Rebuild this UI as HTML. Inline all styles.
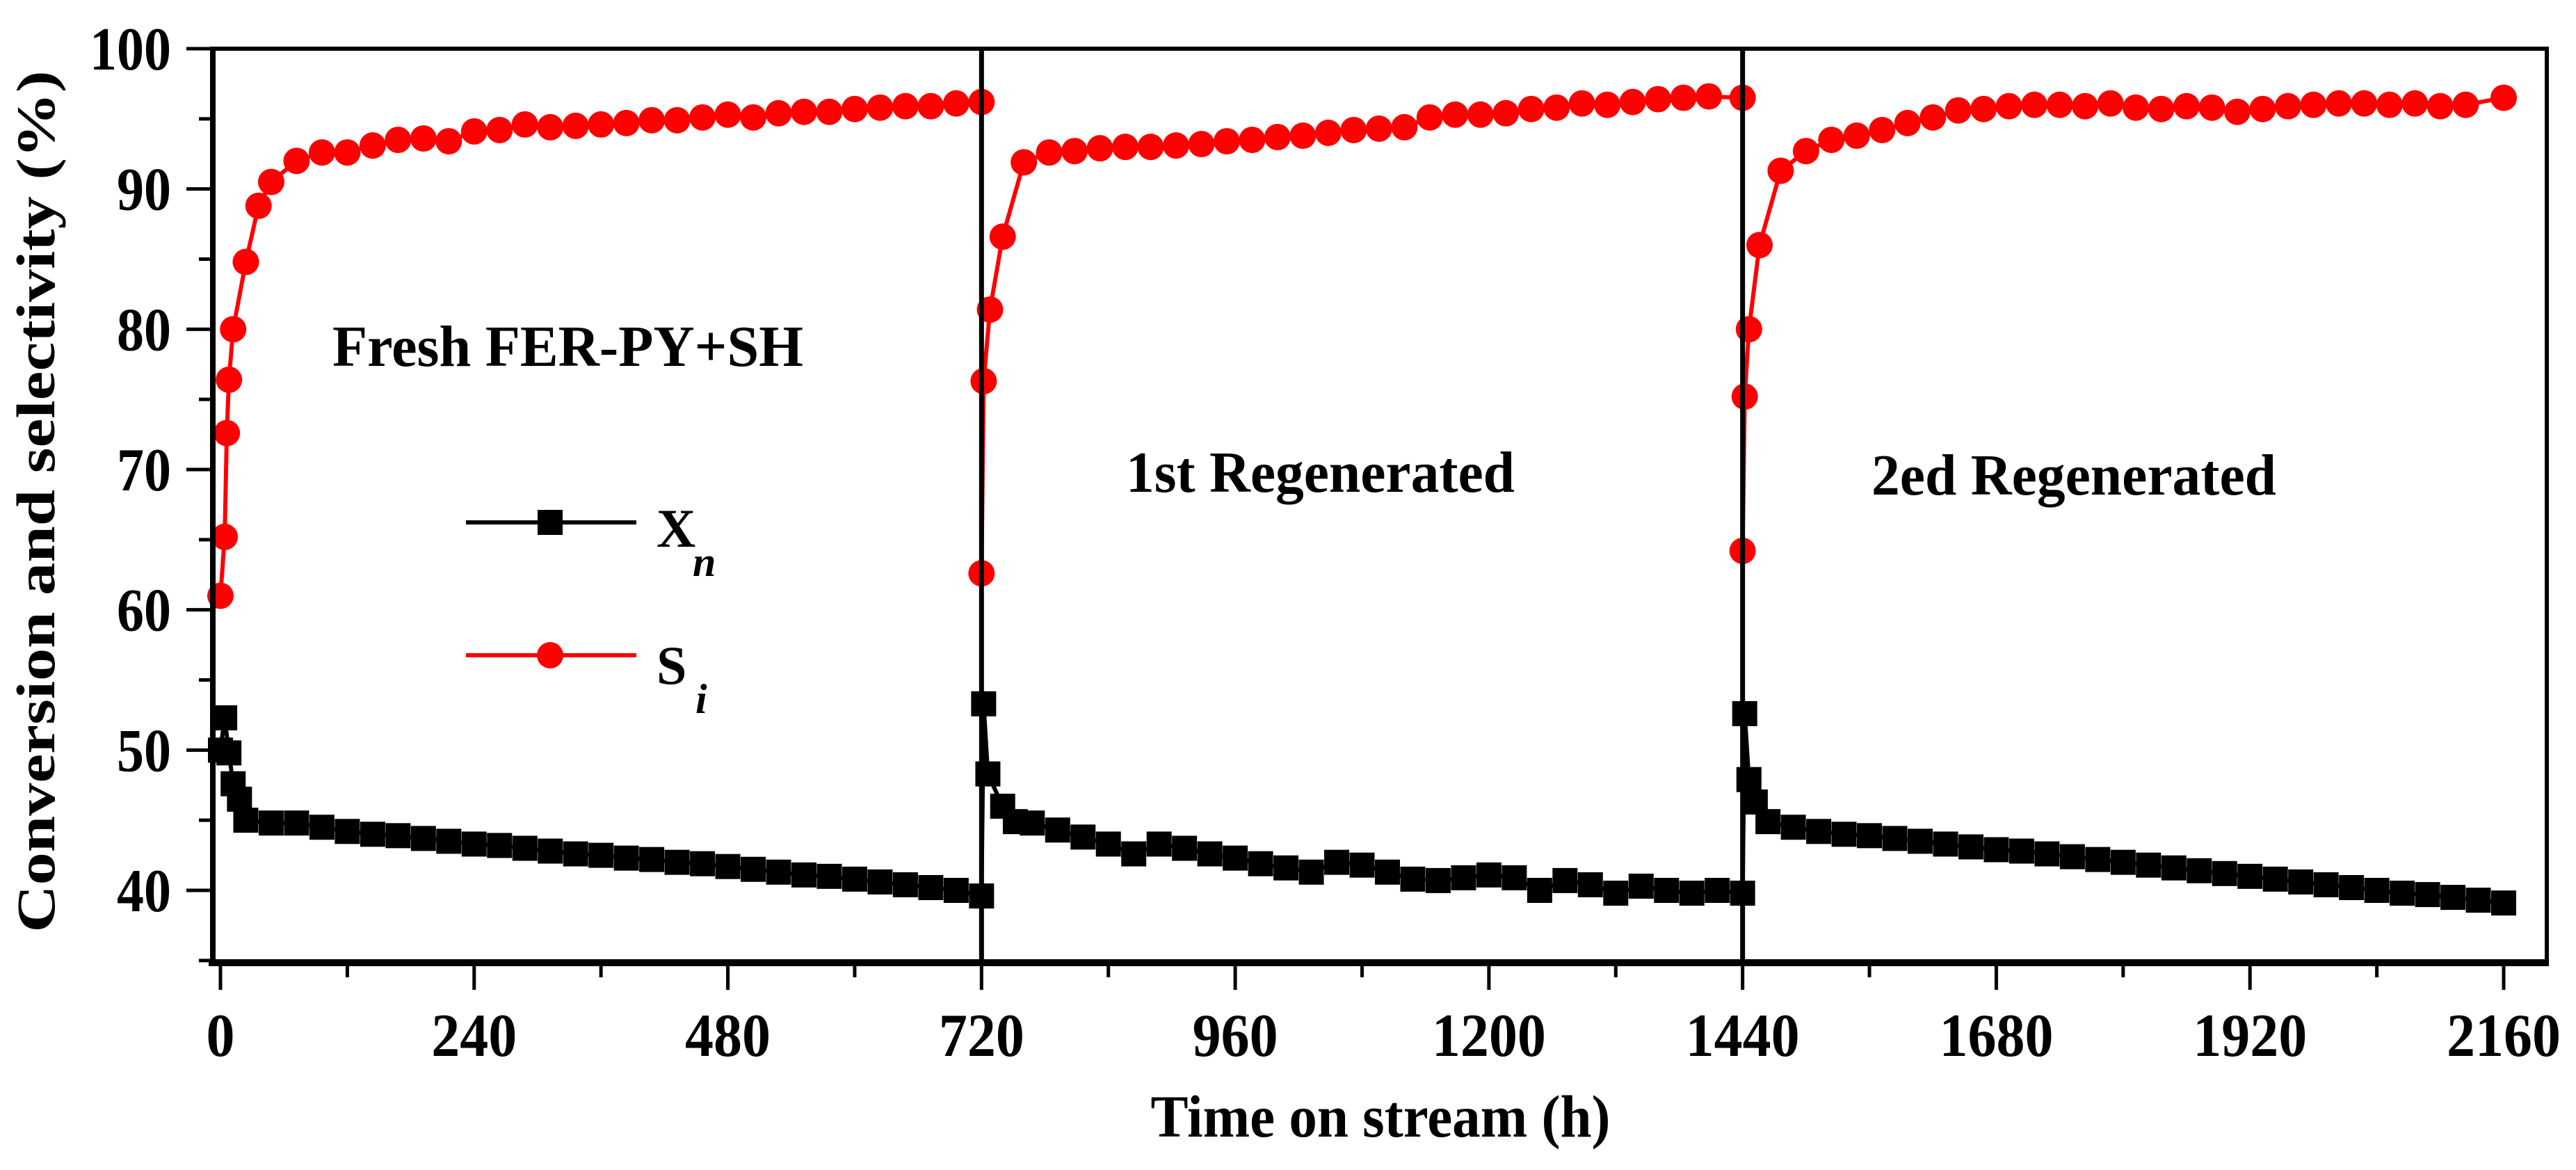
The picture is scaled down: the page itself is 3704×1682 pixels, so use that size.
<!DOCTYPE html>
<html><head><meta charset="utf-8"><style>
html,body{margin:0;padding:0;background:#fff;}
svg{display:block;}
text{font-family:"Liberation Serif",serif;font-weight:bold;fill:#000;}
</style></head><body>
<svg id="chart" width="3704" height="1682" viewBox="0 0 3704 1682" xmlns="http://www.w3.org/2000/svg">
<g id="marks"></g>
<g id="axes"></g>
</svg>
<script>
const xnTimes = [0,4,8,12,18,24,48,72,96,120,144,168,192,216,240,264,288,312,336,360,384,408,432,456,480,504,528,552,576,600,624,648,672,696,720,
722,726,740,752,768,792,816,840,864,888,912,936,960,984,1008,1032,1056,1080,1104,1128,1152,1176,1200,1224,1248,1272,1296,1320,1344,1368,1392,1416,1440,
1442,1446,1452,1464,1488,1512,1536,1560,1584,1608,1632,1656,1680,1704,1728,1752,1776,1800,1824,1848,1872,1896,1920,1944,1968,1992,2016,2040,2064,2088,2112,2136,2160];
const xnValues = [50.0,52.3,49.8,47.6,46.5,45.0,44.8,44.8,44.5,44.2,44.0,43.9,43.7,43.5,43.3,43.2,43.0,42.8,42.6,42.5,42.3,42.2,42.0,41.9,41.7,41.5,41.3,41.1,41.0,40.8,40.6,40.4,40.2,40.0,39.6,
53.3,48.3,46.0,44.9,44.8,44.3,43.8,43.3,42.6,43.3,43.0,42.6,42.3,41.9,41.6,41.3,42.0,41.8,41.3,40.8,40.7,40.9,41.1,40.9,40.0,40.7,40.4,39.8,40.3,40.0,39.8,40.0,39.8,
52.6,47.9,46.3,44.9,44.5,44.2,44.0,43.9,43.7,43.5,43.3,43.1,42.9,42.8,42.6,42.4,42.2,42.0,41.8,41.6,41.4,41.2,41.0,40.8,40.6,40.4,40.2,40.0,39.8,39.7,39.5,39.3,39.1];
const siTimes = [0,4,6,8,12,24,36,48,72,96,120,144,168,192,216,240,264,288,312,336,360,384,408,432,456,480,504,528,552,576,600,624,648,672,696,720,
720,722,728,740,760,784,808,832,856,880,904,928,952,976,1000,1024,1048,1072,1096,1120,1144,1168,1192,1216,1240,1264,1288,1312,1336,1360,1384,1408,1440,
1440,1442,1446,1456,1476,1500,1524,1548,1572,1596,1620,1644,1668,1692,1716,1740,1764,1788,1812,1836,1860,1884,1908,1932,1956,1980,2004,2028,2052,2076,2100,2124,2160];
const siValues = [61.0,65.2,72.6,76.4,80.0,84.8,88.8,90.5,92.0,92.6,92.6,93.1,93.5,93.6,93.4,94.1,94.2,94.6,94.4,94.5,94.6,94.7,94.9,94.9,95.1,95.3,95.1,95.4,95.5,95.5,95.7,95.8,95.9,95.9,96.1,96.2,
62.6,76.3,81.4,86.6,91.9,92.6,92.7,92.9,93.0,93.0,93.1,93.2,93.4,93.5,93.7,93.8,94.0,94.2,94.3,94.4,95.1,95.3,95.3,95.4,95.7,95.8,96.1,96.0,96.2,96.4,96.5,96.6,96.5,
64.2,75.2,80.0,86.0,91.3,92.7,93.5,93.8,94.2,94.7,95.1,95.6,95.7,95.9,96.0,96.0,95.9,96.1,95.8,95.7,95.9,95.8,95.5,95.7,95.9,96.0,96.1,96.1,96.0,96.1,95.9,96.0,96.5];
const xTicks = [0,240,480,720,960,1200,1440,1680,1920,2160];
const yTicks = [40,50,60,70,80,90,100];

const NS="http://www.w3.org/2000/svg";
const X0=306,X1=3662,Y0=70,Y1=1384;
const xMin=-7.2,xMax=2200.8,yMin=34.85,yMax=100;
function sx(v){return 317+(v-0)*(3600-317)/2160;}
function sy(v){return 70+(100-v)*(1280-70)/60;}
function mk(tag,attrs,parent){const e=document.createElementNS(NS,tag);for(const k in attrs)e.setAttribute(k,attrs[k]);parent.appendChild(e);return e;}
const marks=document.getElementById('marks');
const axes=document.getElementById('axes');

// frame
let fr=mk('rect',{x:X0,y:Y0,width:X1-X0,height:Y1-Y0,fill:'none',stroke:'#000','stroke-width':6},axes);


let bx=mk('line',{x1:X0-6,y1:Y1,x2:X1+3,y2:Y1,stroke:'#000','stroke-width':10},axes);


let lx=mk('line',{x1:X0,y1:Y0-3,x2:X0,y2:Y1,stroke:'#000','stroke-width':8},axes);


[720,1440].forEach(function(t){
  const d=mk('line',{x1:sx(t),y1:Y0,x2:sx(t),y2:Y1,stroke:'#000','stroke-width':7},axes);
  
  
});

// x ticks
for(let t=0;t<=2160;t+=120){
  const major=(t%240===0);
  const tk=mk('line',{x1:sx(t),y1:Y1,x2:sx(t),y2:major?1423:1405,stroke:'#000','stroke-width':5},axes);
  
  
}
xTicks.forEach(function(t){
  const s=String(t);
  const tx=mk('text',{x:sx(t),y:1518,'text-anchor':'middle','font-size':88,textLength:s.length*41,lengthAdjust:'spacingAndGlyphs'},axes);
  tx.textContent=s;
  
  
});
// y ticks
for(let v=35;v<=100;v+=5){
  const major=(v%10===0);
  const tk=mk('line',{x1:X0,y1:sy(v),x2:major?268:286,y2:sy(v),stroke:'#000','stroke-width':5},axes);
  
  
}
yTicks.forEach(function(v){
  const s=String(v);
  const tx=mk('text',{x:246,y:sy(v)+30,'text-anchor':'end','font-size':88,textLength:s.length*39,lengthAdjust:'spacingAndGlyphs'},axes);
  tx.textContent=s;
  
  
});
// titles
let xt=mk('text',{x:1985,y:1634,'text-anchor':'middle','font-size':86,textLength:661,lengthAdjust:'spacingAndGlyphs'},axes);
xt.textContent='Time on stream (h)';


let yt=mk('text',{x:0,y:0,'text-anchor':'middle','font-size':78,textLength:1239,lengthAdjust:'spacingAndGlyphs',transform:'translate(78,721) rotate(-90)'},axes);
yt.textContent='Conversion and selectivity (%)';



// series Xn
let pts=xnTimes.map(function(t,i){return sx(t)+','+sy(xnValues[i]);}).join(' ');
let pl=mk('polyline',{points:pts,fill:'none',stroke:'#000','stroke-width':6},marks);


xnTimes.forEach(function(t,i){
  const r=mk('rect',{x:sx(t)-18,y:sy(xnValues[i])-18,width:36,height:36,fill:'#000'},marks);
  
  
});
// series Si
pts=siTimes.map(function(t,i){return sx(t)+','+sy(siValues[i]);}).join(' ');
pl=mk('polyline',{points:pts,fill:'none',stroke:'#f00','stroke-width':6},marks);


siTimes.forEach(function(t,i){
  const c=mk('circle',{cx:sx(t),cy:sy(siValues[i]),r:19,fill:'#f00'},marks);
  
  
});

// annotations
function label(txt,x,y,w,name){
  const t=mk('text',{x:x,y:y,'font-size':84,textLength:w,lengthAdjust:'spacingAndGlyphs'},axes);
  t.textContent=txt;
  
  
}
label('Fresh FER-PY+SH',478,526,677,'fresh-label');
label('1st Regenerated',1619,707,559,'first-regenerated-label');
label('2ed Regenerated',2691,711,582,'second-regenerated-label');

// legend
const lg=mk('g',{},axes);


let l1=mk('line',{x1:670,y1:751,x2:915,y2:751,stroke:'#000','stroke-width':6},lg);


let m1=mk('rect',{x:773,y:733,width:36,height:36,fill:'#000'},lg);


let l2=mk('line',{x1:670,y1:942,x2:915,y2:942,stroke:'#f00','stroke-width':6},lg);


let m2=mk('circle',{cx:791,cy:942,r:19,fill:'#f00'},lg);


let t1=mk('text',{x:944,y:786,'font-size':78},lg);
t1.textContent='X';


let s1=mk('text',{x:996,y:828,'font-size':60,'font-style':'italic'},lg);
s1.textContent='n';


let t2=mk('text',{x:944,y:983,'font-size':78},lg);
t2.textContent='S';


let s2=mk('text',{x:1000,y:1025,'font-size':60,'font-style':'italic'},lg);
s2.textContent='i';


</script>
</body></html>
